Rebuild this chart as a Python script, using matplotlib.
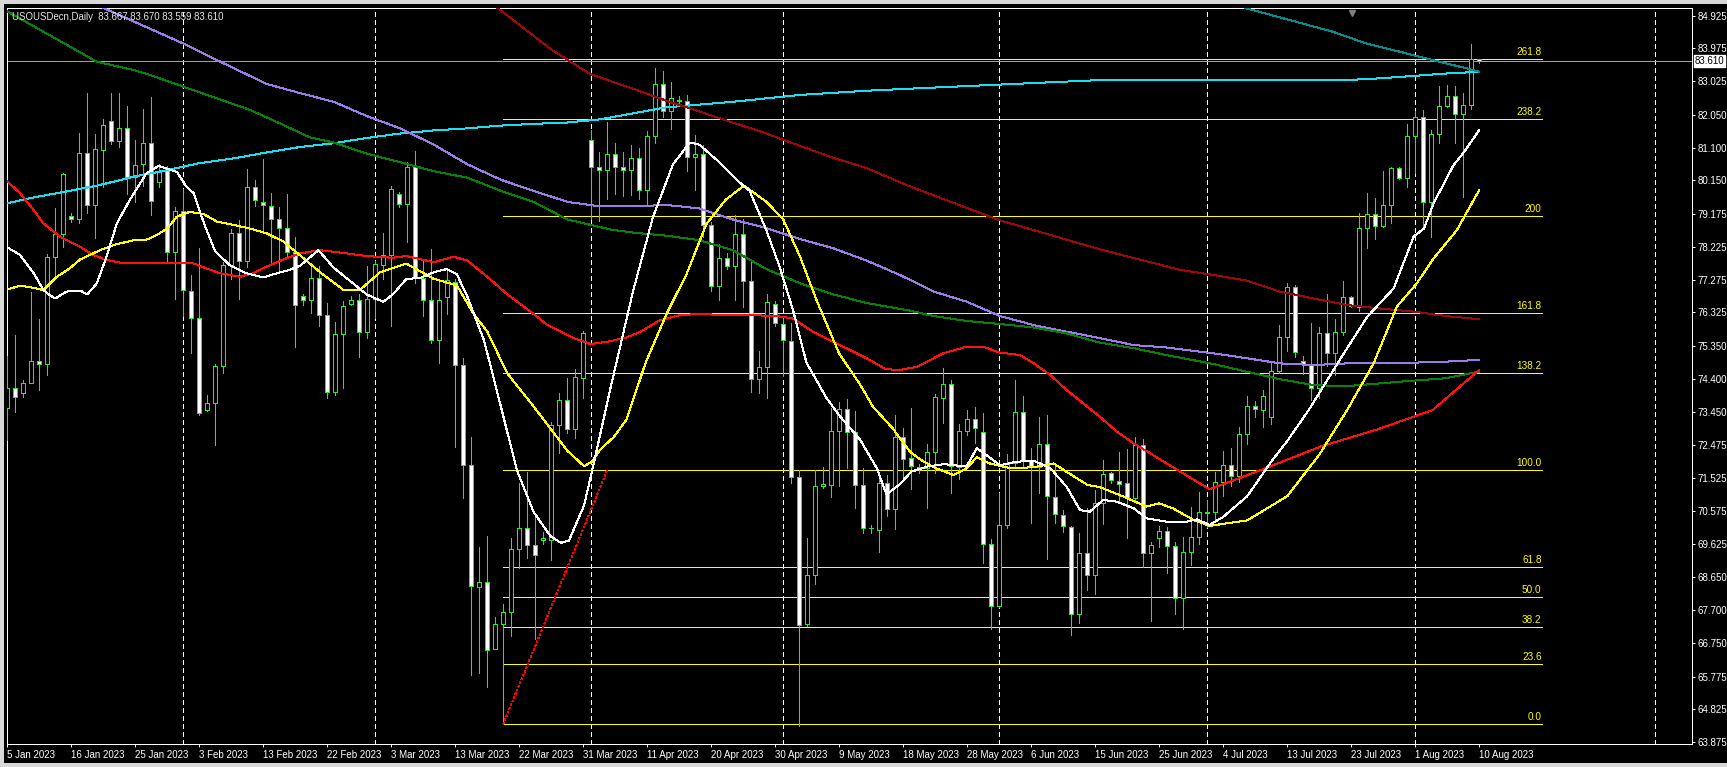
import numpy as np
import matplotlib.pyplot as plt
from matplotlib.patches import Rectangle
from matplotlib.transforms import blended_transform_factory

plt.rcParams['font.family'] = ['Liberation Sans', 'DejaVu Sans']
plt.rcParams['lines.scale_dashes'] = False

# ---- data (bar index 0 = 5 Jan 2023, 184 = 10 Aug 2023) ----
title = "USOUSDecn,Daily  83.667 83.670 83.559 83.610"
last_price = 83.610

opens = [73.55, 74.13, 74.00, 74.29, 74.93, 74.83, 77.94, 78.60, 79.12, 79.02,
         80.94, 79.44, 81.03, 81.86, 81.29, 81.66, 80.24, 80.62, 81.23, 80.10,
         80.47, 78.07, 79.27, 76.96, 76.16, 73.50, 73.71, 74.77, 77.70, 78.64,
         77.83, 79.95, 79.53, 79.42, 79.02, 78.76, 78.07, 76.79, 76.69, 77.32,
         76.25, 74.01, 75.69, 76.56, 76.69, 75.77, 76.72, 77.71, 78.00, 79.77,
         79.47, 80.55, 77.32, 76.69, 75.54, 76.76, 77.22, 74.79, 71.90, 68.37,
         68.50, 66.58, 67.29, 67.64, 69.48, 70.09, 69.58, 69.73, 69.73, 73.05,
         73.79, 72.96, 74.43, 81.32, 80.53, 80.46, 80.93, 80.54, 80.46, 80.79,
         79.87, 81.43, 82.94, 82.15, 82.46, 82.46, 80.83, 80.93, 78.85, 77.08,
         77.91, 77.68, 78.60, 77.23, 74.39, 74.75, 76.56, 76.00, 75.51, 71.56,
         67.29, 68.73, 71.29, 71.33, 72.90, 73.54, 72.86, 71.33, 70.07, 70.03,
         71.37, 70.63, 72.71, 72.10, 71.86, 71.81, 72.27, 73.84, 74.24, 71.84,
         72.90, 73.23, 72.87, 69.62, 67.82, 70.16, 71.95, 73.43, 72.03, 71.86,
         72.50, 70.99, 70.46, 70.12, 67.58, 69.34, 68.72, 70.81, 71.66, 71.45,
         71.37, 70.94, 72.47, 69.34, 69.78, 70.00, 69.56, 68.04, 69.39, 69.81,
         70.50, 70.55, 71.40, 71.90, 71.60, 72.80, 73.61, 73.50, 73.30, 74.64,
         75.60, 77.07, 74.93, 74.83, 74.13, 75.72, 75.16, 75.77, 76.76, 76.49,
         78.76, 79.18, 78.84, 79.44, 80.50, 80.21, 81.44, 81.98, 79.52, 81.49,
         82.31, 82.60, 82.07, 82.34, 83.667]
highs = [75.06, 75.67, 74.37, 76.91, 76.13, 78.02, 79.34, 80.38, 79.20, 81.53,
         82.68, 81.50, 81.94, 82.69, 82.68, 82.31, 81.32, 82.21, 82.56, 80.63,
         80.57, 79.39, 79.89, 77.41, 78.18, 73.93, 74.83, 77.80, 78.73, 79.00,
         80.47, 80.16, 80.76, 79.80, 79.37, 79.76, 78.50, 76.86, 77.71, 77.66,
         76.60, 76.05, 76.66, 76.79, 76.85, 77.68, 77.83, 78.64, 79.98, 79.82,
         80.68, 80.99, 77.83, 78.17, 77.20, 77.55, 77.30, 75.00, 72.71, 69.52,
         69.84, 67.50, 67.89, 69.80, 71.37, 71.69, 70.39, 69.96, 73.15, 73.98,
         74.43, 74.68, 75.79, 81.61, 80.97, 81.83, 81.25, 80.97, 81.19, 81.10,
         81.57, 83.42, 83.32, 83.01, 82.59, 82.63, 81.48, 81.19, 78.96, 78.32,
         78.04, 79.15, 79.02, 77.87, 75.22, 76.85, 76.66, 76.21, 76.02, 71.75,
         69.80, 71.75, 71.84, 73.57, 73.73, 73.82, 73.47, 71.81, 70.18, 71.66,
         71.62, 73.34, 72.99, 73.55, 71.93, 72.51, 73.96, 74.71, 74.37, 73.09,
         73.50, 73.58, 73.40, 69.75, 71.10, 72.22, 74.37, 73.90, 72.39, 73.30,
         73.35, 71.95, 70.60, 70.14, 69.94, 70.65, 71.18, 72.05, 71.71, 72.29,
         72.36, 72.71, 72.65, 69.68, 70.14, 70.12, 69.68, 69.81, 70.68, 71.13,
         70.90, 71.70, 72.30, 72.40, 73.00, 73.89, 73.77, 74.08, 74.85, 75.96,
         77.17, 77.12, 75.06, 76.01, 75.89, 76.85, 76.13, 77.24, 76.80, 79.22,
         79.78, 79.63, 80.43, 80.55, 80.53, 81.79, 82.17, 82.19, 81.61, 82.89,
         82.92, 82.89, 82.69, 84.11, 83.670]
lows = [72.63, 73.45, 73.88, 74.27, 74.08, 74.51, 77.31, 78.21, 78.96, 78.93,
        79.22, 78.47, 79.95, 81.21, 81.11, 79.76, 79.54, 79.99, 79.14, 79.95,
        77.78, 76.71, 76.22, 75.16, 73.35, 73.48, 72.48, 74.58, 77.29, 76.71,
        77.63, 79.41, 78.64, 77.73, 77.48, 77.94, 75.33, 76.54, 76.30, 75.92,
        73.85, 73.92, 74.13, 76.53, 75.03, 75.58, 76.15, 77.30, 75.92, 79.39,
        78.38, 77.17, 76.21, 75.45, 74.87, 76.28, 72.43, 70.95, 65.82, 65.88,
        65.46, 66.56, 64.39, 66.94, 68.91, 69.20, 66.86, 69.62, 69.16, 72.26,
        72.83, 72.68, 73.85, 79.02, 78.98, 79.62, 79.75, 79.70, 79.72, 79.62,
        79.40, 81.23, 81.99, 81.63, 82.34, 80.42, 79.87, 78.51, 76.94, 76.69,
        77.58, 76.69, 76.47, 74.01, 73.98, 73.85, 75.92, 74.49, 71.37, 64.35,
        67.25, 68.47, 71.24, 70.99, 71.30, 71.81, 70.67, 69.94, 69.93, 69.39,
        70.44, 70.05, 71.53, 71.20, 71.66, 70.65, 71.68, 73.11, 71.10, 71.49,
        72.77, 72.53, 69.07, 67.14, 67.80, 70.07, 71.86, 71.81, 70.23, 71.10,
        69.17, 70.23, 69.97, 66.98, 67.32, 68.28, 68.17, 70.20, 71.37, 70.81,
        69.78, 70.87, 68.96, 67.39, 69.52, 68.77, 67.59, 67.14, 69.01, 69.62,
        70.10, 70.30, 71.00, 71.30, 71.40, 72.50, 73.30, 73.00, 73.10, 74.56,
        75.22, 75.03, 74.54, 73.79, 73.84, 74.77, 74.51, 75.67, 76.47, 76.38,
        78.18, 78.44, 78.79, 78.91, 80.18, 79.95, 80.38, 78.81, 78.50, 81.23,
        82.29, 81.25, 79.66, 82.21, 83.559]
closes = [74.13, 73.88, 74.29, 74.93, 74.83, 77.94, 78.60, 80.33, 79.02, 80.94,
          79.44, 81.05, 81.75, 81.30, 81.66, 80.24, 80.59, 81.23, 79.55, 80.43,
          78.07, 79.27, 76.98, 76.16, 73.42, 73.71, 74.77, 77.70, 78.64, 77.83,
          79.95, 79.58, 79.44, 79.02, 78.76, 78.07, 76.54, 76.69, 77.32, 76.25,
          74.01, 75.69, 76.51, 76.69, 75.77, 76.72, 77.72, 78.00, 79.91, 79.47,
          80.55, 77.32, 76.69, 75.54, 76.69, 77.26, 74.79, 71.90, 68.40, 68.50,
          66.55, 67.29, 67.64, 69.48, 70.09, 69.58, 69.29, 69.80, 73.05, 73.79,
          72.96, 74.45, 75.74, 80.53, 80.45, 80.93, 80.53, 80.45, 80.79, 79.87,
          81.43, 82.94, 82.15, 82.55, 82.46, 80.83, 80.93, 78.85, 77.08, 77.90,
          77.68, 78.60, 77.23, 74.39, 74.75, 76.63, 76.02, 75.54, 71.56, 67.26,
          68.73, 71.30, 71.34, 72.90, 73.54, 72.86, 71.33, 70.07, 70.09, 71.37,
          70.63, 72.71, 72.09, 71.88, 71.81, 72.27, 73.87, 74.24, 71.88, 72.90,
          73.23, 72.97, 69.62, 67.82, 70.16, 71.95, 73.43, 72.05, 71.86, 72.50,
          71.01, 70.49, 70.14, 67.58, 69.34, 68.72, 70.79, 71.63, 71.47, 71.35,
          70.94, 72.47, 69.34, 69.59, 70.00, 69.56, 68.04, 69.39, 69.81, 70.53,
          70.55, 71.40, 71.90, 71.60, 72.80, 73.60, 73.52, 73.90, 74.64, 75.60,
          77.05, 75.19, 74.83, 74.13, 75.72, 75.16, 75.77, 76.76, 76.51, 78.76,
          79.18, 78.84, 79.44, 80.50, 80.21, 81.44, 81.98, 79.52, 81.49, 82.31,
          82.60, 82.07, 82.34, 83.66, 83.610]

date_labels = ["5 Jan 2023", "16 Jan 2023", "25 Jan 2023", "3 Feb 2023", "13 Feb 2023",
               "22 Feb 2023", "3 Mar 2023", "13 Mar 2023", "22 Mar 2023", "31 Mar 2023",
               "11 Apr 2023", "20 Apr 2023", "30 Apr 2023", "9 May 2023", "18 May 2023",
               "28 May 2023", "6 Jun 2023", "15 Jun 2023", "25 Jun 2023", "4 Jul 2023",
               "13 Jul 2023", "23 Jul 2023", "1 Aug 2023", "10 Aug 2023"]
date_bars = list(range(0, 185, 8))
month_bars = [22, 46, 73, 97, 124, 150, 176, 206]

price_ticks = [84.925, 83.975, 83.025, 82.050, 81.100, 80.150, 79.175, 78.225,
               77.275, 76.325, 75.350, 74.400, 73.450, 72.475, 71.525, 70.575,
               69.625, 68.650, 67.700, 66.750, 65.775, 64.825, 63.875]

# moving averages (bar, value)
ma_white_x = [0, 1.6, 3.3, 4.5, 5.3, 6, 7.4, 9.1, 10, 11.2, 12.4, 13.7, 15.3, 17.4, 18.9,
              19.9, 21.2, 22.4, 23.3, 24, 24.9, 26, 27.8, 29.9, 32, 33.7, 35.3, 36.6, 38.9,
              40.8, 42.9, 44.9, 47, 48.2, 49.9, 51.6, 53.3, 54.9, 56.2, 57.5, 59.6, 61.7,
              63.7, 65.8, 67.9, 69.2, 70.2, 72.1, 73.3, 75.4, 78.2, 80.7, 83.2, 85.3, 86.5,
              89, 91.5, 92.8, 94.9, 96.5, 98.2, 99.9, 102.4, 104, 106.6, 108.7, 109.9,
              111.6, 113, 115, 117.1, 119.9, 121.2, 122.4, 124.1, 126.2, 128.3, 130.4,
              132.4, 134.1, 135.3, 137, 138.7, 140.8, 142.4, 144.9, 147.4, 148.7, 150.3,
              152, 155, 158, 160, 162.7, 166.7, 170, 173.3, 175.8, 177.1, 178.3, 180.8,
              182, 184]
ma_white_y = [78.21, 77.99, 77.46, 76.98, 76.83, 76.73, 76.93, 76.96, 76.85, 77.17, 77.94,
              78.91, 79.58, 80.36, 80.57, 80.50, 80.40, 79.97, 79.78, 79.29, 78.72, 78.09,
              77.70, 77.46, 77.34, 77.46, 77.56, 77.68, 78.13, 77.62, 77.23, 76.85, 76.63,
              76.85, 77.30, 77.32, 77.49, 77.58, 77.43, 76.79, 75.51, 73.60, 71.75, 70.54,
              69.84, 69.65, 69.71, 70.73, 71.94, 74.13, 76.92, 79.08, 80.61, 81.25, 81.19,
              80.68, 80.10, 79.85, 78.70, 77.68, 76.41, 74.87, 73.85, 73.34, 72.64, 71.81,
              71.05, 71.35, 71.71, 71.86, 71.93, 71.86, 72.39, 72.19, 71.90, 72.00, 72.03,
              71.81, 71.28, 70.60, 70.55, 70.89, 70.84, 70.65, 70.36, 70.26, 70.26, 70.33,
              70.17, 70.40, 71.00, 72.00, 72.60, 73.50, 75.00, 76.20, 77.02, 78.52, 78.76,
              79.49, 80.60, 80.94, 81.61]

ma_yellow_x = [0, 1.6, 3.3, 4.5, 6.2, 7.8, 9.1, 11.6, 13.3, 15.8, 17.5, 18.7, 20, 21.2,
               22.8, 24.5, 26.2, 28.3, 30.3, 32.4, 34.5, 36.4, 39.1, 42, 44.1, 46.6, 49.9,
               53.3, 56.2, 58.3, 60, 62.5, 65.8, 67.9, 70, 72.1, 73.1, 74.1, 75.8, 77.4,
               79.8, 82.4, 84.9, 87.4, 89.8, 92.1, 94.9, 97, 99.1, 101.2, 104, 106.6, 108.2,
               110.7, 112.8, 114.1, 115.8, 118.3, 119.9, 121.2, 122.8, 125.4, 128.3, 130.8,
               132.4, 135, 136.6, 139.1, 142.4, 144, 145.7, 148.3, 150.3, 155, 160, 164,
               167.5, 170.8, 173.7, 176.2, 178.3, 181.2, 184]
ma_yellow_y = [76.99, 77.10, 77.04, 76.97, 77.36, 77.60, 77.86, 78.13, 78.28, 78.42, 78.44,
               78.57, 78.76, 79.10, 79.24, 79.18, 78.96, 78.86, 78.76, 78.62, 78.38, 78.02,
               77.49, 76.98, 76.98, 77.49, 77.74, 77.30, 77.11, 76.28, 75.77, 74.56, 73.60,
               72.96, 72.32, 71.87, 72.00, 72.35, 72.71, 73.22, 74.87, 76.28, 77.43, 78.89,
               79.59, 80.00, 79.53, 79.02, 77.94, 76.66, 75.13, 74.24, 73.60, 72.96, 72.30,
               72.07, 71.84, 71.61, 71.81, 72.13, 71.95, 71.81, 71.84, 71.95, 71.71, 71.33,
               71.26, 71.03, 70.70, 70.79, 70.65, 70.31, 70.14, 70.30, 71.00, 72.20, 73.50,
               74.85, 76.49, 77.17, 77.89, 78.71, 79.87]

ma_red_x = [0, 1.6, 3.3, 4.5, 6.6, 9.1, 10.7, 12.4, 14.5, 17.8, 20.3, 23.2, 24.9, 26.6,
            29.1, 30.7, 32.4, 34.5, 36.6, 39.1, 41.6, 44.9, 48.2, 49.9, 53.3, 55.8, 57.5,
            60, 62.5, 65.8, 67.5, 70.8, 72.9, 75.4, 77.4, 79.2, 81.5, 84.1, 86.5, 89.8,
            93.2, 96.5, 98.2, 100.7, 104, 107.4, 109.8, 111.6, 113.7, 117, 119.9, 122,
            124.1, 126.6, 128.3, 130.4, 132.4, 134.5, 136.6, 138.7, 140.8, 142.9, 144.9,
            147, 150.3, 157.4, 164.3, 171.2, 178.2, 184]
ma_red_y = [80.12, 79.78, 79.29, 78.91, 78.52, 78.23, 77.99, 77.85, 77.75, 77.75, 77.75,
            77.75, 77.60, 77.46, 77.36, 77.46, 77.65, 77.86, 78.04, 78.13, 78.06, 77.96,
            77.91, 77.96, 77.78, 77.94, 77.83, 77.36, 76.85, 76.28, 75.96, 75.58, 75.41,
            75.49, 75.60, 75.77, 76.09, 76.25, 76.28, 76.25, 76.25, 76.21, 76.15, 75.77,
            75.39, 75.00, 74.68, 74.66, 74.75, 75.14, 75.33, 75.33, 75.16, 75.09, 74.85,
            74.51, 74.08, 73.69, 73.30, 72.87, 72.53, 72.24, 71.95, 71.66, 71.20, 71.82,
            72.45, 72.93, 73.50, 74.66]

ma_maroon_x = [61, 68.1, 72.9, 78.2, 82.4, 86.5, 90.7, 94.9, 99.1, 103.2, 107.4, 112.8,
               124, 136.8, 146.6, 150.8, 154.9, 159.1, 163.3, 167.5, 171.6, 175.8, 179.9, 184]
ma_maroon_y = [85.20, 83.93, 83.23, 82.81, 82.46, 82.15, 81.83, 81.51, 81.15, 80.81, 80.51,
               79.98, 79.00, 78.14, 77.56, 77.41, 77.25, 76.93, 76.73, 76.54, 76.44, 76.35,
               76.22, 76.13]

ma_green_x = [0, 11.2, 15.8, 17.8, 22, 26.2, 30.4, 34.5, 37.8, 40.8, 44.9, 49.1, 53.3,
              57.5, 61.7, 65.8, 70, 75.4, 78.2, 82.4, 86.5, 90.7, 94.9, 99.1, 103.2, 107.4,
              112.8, 115.8, 119.9, 124.1, 128.3, 132.4, 136.6, 140.8, 144.9, 150.8, 154.9,
              159.1, 163.3, 167.5, 171.6, 175.8, 179.9, 184]
ma_green_y = [85.05, 83.59, 83.35, 83.21, 82.87, 82.53, 82.19, 81.76, 81.40, 81.25, 80.93,
              80.68, 80.42, 80.23, 79.85, 79.53, 79.02, 78.73, 78.64, 78.55, 78.42, 78.13,
              77.58, 77.17, 76.85, 76.60, 76.38, 76.22, 76.08, 75.99, 75.89, 75.72, 75.45,
              75.29, 75.09, 74.83, 74.61, 74.39, 74.22, 74.19, 74.27, 74.35, 74.42, 74.61]

ma_purple_x = [11.5, 22, 26.2, 32.4, 36.6, 40.8, 44.9, 49.1, 53.3, 57.5, 61.7, 65.8, 70,
               74.1, 78.2, 82.4, 86.5, 90.7, 94.9, 99.1, 103.2, 107.4, 111.6, 115.8, 119.9,
               124.1, 128.3, 132.4, 136.6, 140.8, 144.9, 150.8, 154.9, 159.1, 163.3, 167.5,
               171.6, 175.8, 179.9, 184]
ma_purple_y = [85.20, 84.12, 83.64, 82.95, 82.68, 82.43, 82.02, 81.66, 81.19, 80.62, 80.17,
               79.85, 79.53, 79.40, 79.40, 79.44, 79.34, 79.02, 78.77, 78.45, 78.19, 77.83,
               77.41, 76.93, 76.64, 76.22, 75.96, 75.77, 75.58, 75.38, 75.31, 75.14, 75.00,
               74.85, 74.80, 74.85, 74.87, 74.87, 74.90, 74.95]

ma_cyan_x = [0, 3.3, 7.4, 11.6, 15.8, 20, 24, 28.3, 32.4, 36.6, 40.8, 44.9, 49.1, 53.3,
             57.5, 61.7, 65.8, 70, 74.1, 82.4, 90.7, 99.1, 107.4, 112.8, 136.6, 167.5,
             171.6, 175.8, 179.9, 184]
ma_cyan_y = [79.49, 79.66, 79.83, 80.02, 80.26, 80.45, 80.65, 80.79, 80.96, 81.12, 81.23,
             81.38, 81.51, 81.60, 81.66, 81.74, 81.79, 81.83, 81.92, 82.27, 82.43, 82.63,
             82.75, 82.81, 83.06, 83.06, 83.11, 83.18, 83.25, 83.30]

ma_teal_x = [154.7, 160.3, 165.7, 169.9, 174.1, 178.2, 182.4, 184]
ma_teal_y = [85.15, 84.80, 84.46, 84.12, 83.88, 83.64, 83.40, 83.30]

# fibonacci retracement: anchor bars and prices
fib_bar_start, fib_bar_end = 62, 75
fib_price_0, fib_price_100 = 64.40, 71.76
fib_levels = [0.0, 23.6, 38.2, 50.0, 61.8, 100.0, 138.2, 161.8, 200.0, 238.2, 261.8]
fib_line_end = 191.8

# ---- figure ----
W, H = 1727, 767
fig = plt.figure(figsize=(W / 100, H / 100), dpi=100, facecolor='black')
left_px, right_px, top_px, bottom_px = 6.7, 1692, 8, 744
ax = fig.add_axes([left_px / W, 1 - bottom_px / H,
                   (right_px - left_px) / W, (bottom_px - top_px) / H])
ax.set_facecolor('black')

GREEN = '#22ee22'
LW = 0.72  # one pixel
FS = 7.0
o = np.array(opens); h = np.array(highs); l = np.array(lows); c = np.array(closes)
x = np.arange(len(c))

ax.set_xlim(-0.075, 210.6)
ax.set_ylim(63.819, 85.148)

# month grid
for b in month_bars:
    ax.axvline(b, color='white', lw=LW, ls=(0, (3.0, 2.2)), zorder=1, antialiased=False)

# current price line
ax.axhline(last_price, color='#a0a0a0', lw=LW, zorder=1, antialiased=False)

# fibonacci
fib_prices = [fib_price_0 + (fib_price_100 - fib_price_0) * lv / 100 for lv in fib_levels]
for lv, p in zip(fib_levels, fib_prices):
    ax.plot([fib_bar_start, fib_line_end], [p, p], color='yellow', lw=LW, zorder=2,
            antialiased=False)
    lab = f"{lv:.1f}" if lv != 200 else "200"
    ax.annotate(lab, (fib_line_end, p), xytext=(0, 1.5), textcoords='offset points',
                ha='right', va='bottom', color='yellow', fontsize=7.2, zorder=6)
ax.plot([fib_bar_start, fib_bar_end], [fib_price_0, fib_price_100], color='red', lw=LW,
        ls=(0, (1.2, 2.0)), zorder=6, antialiased=False)

# candles
up = c >= o
ax.vlines(x, l, h, color=GREEN, lw=LW, zorder=3, antialiased=False)
ax.bar(x, np.maximum(np.abs(c - o), 0.02), bottom=np.minimum(o, c), width=0.5,
       color=np.where(up, 'black', 'white'), edgecolor=GREEN, linewidth=LW,
       zorder=4, antialiased=False)

# moving averages
for xs, ys, col in [(ma_cyan_x, ma_cyan_y, '#18e0f0'),
                    (ma_teal_x, ma_teal_y, '#0a8a8a'),
                    (ma_purple_x, ma_purple_y, '#9a7be8'),
                    (ma_green_x, ma_green_y, '#0a800a'),
                    (ma_maroon_x, ma_maroon_y, '#9a0a0a'),
                    (ma_red_x, ma_red_y, '#ff1010'),
                    (ma_yellow_x, ma_yellow_y, '#ffff00'),
                    (ma_white_x, ma_white_y, '#ffffff')]:
    ax.plot(xs, ys, color=col, lw=LW, zorder=5, antialiased=False)

# axes styling
for s in ax.spines.values():
    s.set_color('white')
    s.set_linewidth(LW)
ax.yaxis.tick_right()
ax.set_yticks(price_ticks)
ax.set_yticklabels([f"{t:.3f}" for t in price_ticks])
ax.set_xticks(date_bars)
ax.set_xticklabels(date_labels, ha='left')
ax.tick_params(axis='both', colors='white', labelsize=FS, length=2.5, width=LW)
ax.tick_params(axis='y', pad=1.5)
ax.tick_params(axis='x', pad=2)

# price tag on the right scale
tr = blended_transform_factory(ax.transAxes, ax.transData)
ax.text(1.0015, last_price, f"{last_price:.3f}", transform=tr, ha='left', va='center',
        fontsize=FS, color='black', zorder=10, clip_on=False,
        bbox=dict(facecolor='white', edgecolor='white', pad=0.7))

# chart-shift marker
ax.plot([168.1], [85.0], marker='v', color='#808080', ms=5, zorder=7, clip_on=False)

# title
fig.text(12 / W, 1 - 17 / H, title, color='#e6e6e6', fontsize=6.9, ha='left', va='center')

# window chrome
fig.patches.append(Rectangle((0, 1 - 4 / H), 1, 4 / H, transform=fig.transFigure,
                             facecolor='#d8d8d8', edgecolor='none'))
fig.patches.append(Rectangle((0, 0), 1, 4 / H, transform=fig.transFigure,
                             facecolor='#d8d8d8', edgecolor='none'))
fig.patches.append(Rectangle((0, 0), 4 / W, 1, transform=fig.transFigure,
                             facecolor='#d8d8d8', edgecolor='none'))

fig.savefig('out.png', dpi=100, facecolor='black')
